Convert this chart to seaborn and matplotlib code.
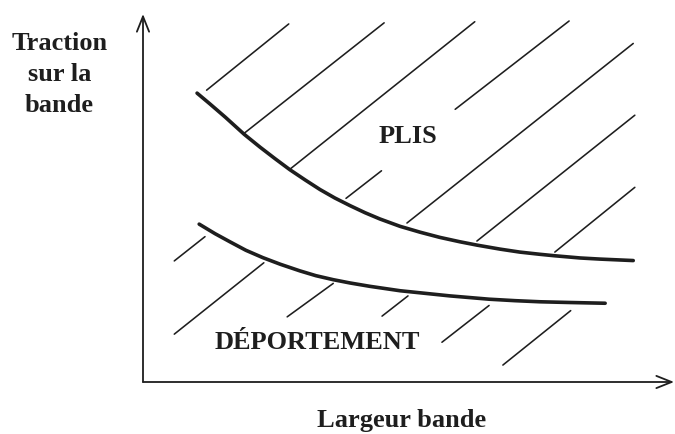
import matplotlib.pyplot as plt
import seaborn as sns

# Schematic: stability zones of a strip vs. tension and width
# (units: 0-100 along each axis)
upper_x = [10.2, 12.6, 15.5, 19.1, 22.1, 24.9, 27.7, 30.6, 33.4, 36.2, 39.1, 41.9,
           44.7, 48.5, 52.3, 56.0, 59.8, 63.0, 67.4, 71.1, 74.9, 77.7, 82.5, 86.2, 92.5]
upper_y = [78.5, 75.6, 72.0, 67.3, 63.8, 60.7, 57.7, 54.9, 52.3, 50.0, 47.9, 46.0,
           44.3, 42.3, 40.7, 39.3, 38.1, 37.2, 36.1, 35.3, 34.7, 34.3, 33.7, 33.4, 33.0]

lower_x = [10.6, 13.6, 16.4, 19.4, 22.6, 25.9, 29.6, 32.6, 35.9, 39.1,
           42.8, 48.5, 53.2, 57.9, 65.3, 70.2, 74.9, 80.6, 87.2]
lower_y = [42.9, 40.3, 38.1, 35.8, 33.8, 32.0, 30.2, 28.9, 27.8, 26.9,
           26.0, 24.8, 24.1, 23.4, 22.5, 22.1, 21.8, 21.6, 21.4]

# hatch segments (x0, y0, x1, y1)
hatch_plis = [
    (12.0, 79.3, 27.5, 97.3),
    (19.1, 67.6, 45.5, 97.6),
    (27.7, 57.8, 62.6, 97.9),
    (58.9, 74.1, 80.4, 98.1),
    (38.3, 49.9, 45.0, 57.4),
    (49.8, 43.2, 92.5, 92.0),
    (63.0, 38.3, 92.8, 72.5),
    (77.7, 35.3, 92.8, 52.9),
]
hatch_deport = [
    (5.9, 32.9, 11.7, 39.5),
    (5.9, 13.0, 22.8, 32.4),
    (27.2, 17.7, 35.9, 26.8),
    (45.1, 17.9, 50.0, 23.4),
    (56.4, 10.8, 65.3, 20.8),
    (67.9, 4.6, 80.7, 19.4),
]

ink = '#1e1e1e'

sns.set_theme(style='white')
plt.rcParams['font.family'] = ['Liberation Serif', 'DejaVu Serif']

fig = plt.figure(figsize=(6.75, 4.34), dpi=100)
ax = fig.add_axes([143 / 675, 52 / 434, 530 / 675, 368 / 434])
ax.set_xlim(0, 100)
ax.set_ylim(0, 100)
ax.axis('off')

# axes with open arrowheads
arrow = dict(arrowstyle='->,head_length=0.55,head_width=0.22', lw=1.3,
             color=ink, shrinkA=0, shrinkB=0, mutation_scale=20)
ax.annotate('', xy=(100.2, 0), xytext=(0, 0), arrowprops=arrow, annotation_clip=False)
ax.annotate('', xy=(0, 100), xytext=(0, 0), arrowprops=arrow, annotation_clip=False)

# boundary curves
for cx, cy in [(upper_x, upper_y), (lower_x, lower_y)]:
    sns.lineplot(x=cx, y=cy, ax=ax, color=ink, linewidth=2.6,
                 sort=False, estimator=None, solid_capstyle='round')

# hatching
for x0, y0, x1, y1 in hatch_plis + hatch_deport:
    sns.lineplot(x=[x0, x1], y=[y0, y1], ax=ax, color=ink, linewidth=1.15,
                 sort=False, estimator=None)

txt = dict(fontsize=19, fontweight='bold', color=ink, ha='center', va='center')
ax.text(50.0, 66.8, 'PLIS', **txt)
ax.text(32.8, 10.6, 'DÉPORTEMENT', **txt)
ax.text(48.7, -10.5, 'Largeur bande', clip_on=False, **txt)
ax.text(-15.8, 83.5, 'Traction\nsur la\nbande', clip_on=False, linespacing=1.45, **txt)

fig.savefig('out.png', dpi=100)
